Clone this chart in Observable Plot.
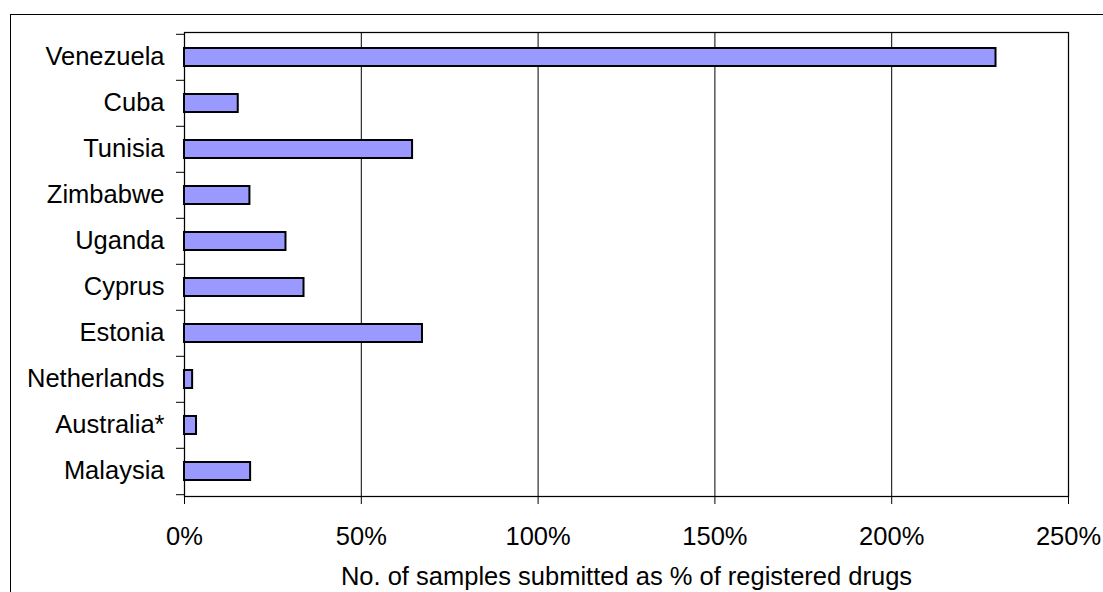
<!DOCTYPE html>
<html><head><meta charset="utf-8">
<script src="https://cdn.jsdelivr.net/npm/d3@7"></script>
<script src="https://cdn.jsdelivr.net/npm/@observablehq/plot@0.6"></script>
<style>
html,body{margin:0;padding:0;background:#fff;}
#wrap{position:relative;width:1103px;height:592px;overflow:hidden;}
#border{position:absolute;left:10px;top:14px;width:2000px;height:2000px;border-left:1px solid #000;border-top:1px solid #000;}
#chart{position:absolute;left:0;top:0;}
</style></head><body>
<div id="wrap"><div id="border"></div><div id="chart"></div></div>
<script>
const countries = ["Venezuela","Cuba","Tunisia","Zimbabwe","Uganda","Cyprus","Estonia","Netherlands","Australia*","Malaysia"];
const values = [2.295, 0.152, 0.645, 0.185, 0.287, 0.338, 0.673, 0.023, 0.034, 0.187];
const xTicks = [0, 0.5, 1, 1.5, 2, 2.5];
const xTitle = "No. of samples submitted as % of registered drugs";

const data = countries.map((c, i) => ({country: c, value: values[i]}));
const W = 1103, H = 592, mT = 32, mB = 96, n = countries.length;
const step = (H - mT - mB) / n;

const chart = Plot.plot({
  width: W, height: H,
  marginLeft: 184, marginRight: 35, marginTop: mT, marginBottom: mB,
  style: {fontFamily: "'Liberation Sans', Arial, sans-serif", fontSize: "25.5px", color: "#000", background: "transparent"},
  x: {domain: [0, 2.5]},
  y: {domain: countries, paddingInner: 0.61, paddingOuter: 0.305},
  marks: [
    Plot.gridX(xTicks.slice(1), {stroke: "#000", strokeOpacity: 1, strokeWidth: 1}),
    Plot.frame({stroke: "#000", strokeWidth: 1.25}),
    Plot.barX(data, {x: "value", y: "country", fill: "#9999ff", stroke: "#000", strokeWidth: 2}),
    Plot.axisX(xTicks, {tickSize: 8, tickPadding: 22, tickFormat: d => `${Math.round(d * 100)}%`,
      label: xTitle, labelAnchor: "center", labelArrow: "none", labelOffset: 88}),
    Plot.axisY({tickSize: 0, tickPadding: 20, dy: -1, label: null}),
    Plot.axisY({tickSize: 8, dy: -step / 2, tickFormat: () => "", label: null}),
    Plot.axisY([countries[n - 1]], {tickSize: 8, dy: step / 2, tickFormat: () => "", label: null})
  ]
});
document.getElementById("chart").appendChild(chart);
</script>
</body></html>
